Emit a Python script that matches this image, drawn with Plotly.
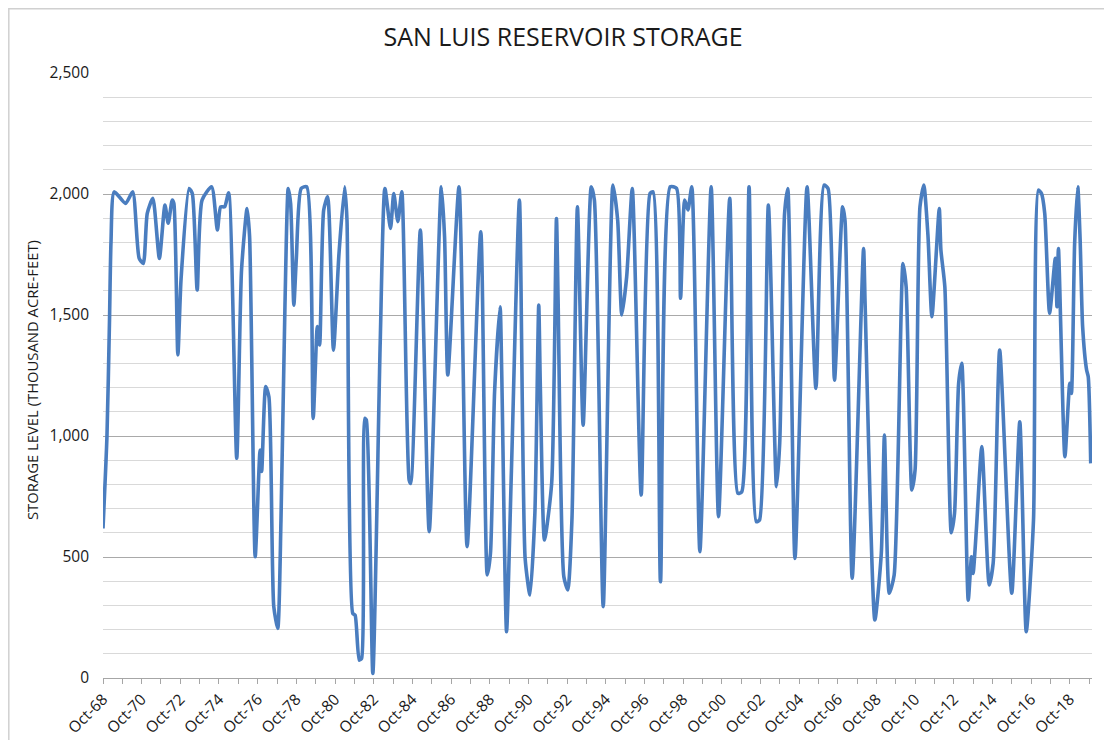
import plotly.graph_objects as go

dates = [
    "1968-10-01", "1968-12-15", "1969-02-01", "1969-03-01", "1969-05-01", "1969-12-01",
    "1970-04-15", "1970-08-15", "1970-11-01", "1971-01-15", "1971-05-01", "1971-09-01",
    "1971-12-15", "1972-02-15", "1972-05-01", "1972-06-01", "1972-08-15", "1972-10-15",
    "1973-03-15", "1973-05-15", "1973-08-15", "1973-11-15", "1974-05-15", "1974-09-01",
    "1974-11-01", "1975-01-15", "1975-04-01", "1975-09-01", "1975-12-01", "1976-03-15",
    "1976-05-01", "1976-08-15", "1976-11-15", "1976-12-15", "1977-03-01", "1977-05-01",
    "1977-08-01", "1977-10-15", "1977-12-15", "1978-03-01", "1978-05-01", "1978-06-15",
    "1978-08-15", "1978-10-01", "1979-01-01", "1979-04-15", "1979-08-15", "1979-11-01",
    "1979-12-15", "1980-03-01", "1980-05-15", "1980-09-01", "1980-12-15", "1981-04-01",
    "1981-05-15", "1981-09-01", "1981-10-15", "1982-01-01", "1982-02-15", "1982-04-15",
    "1982-05-15", "1982-09-15", "1983-02-01", "1983-05-01", "1983-08-15", "1983-10-15",
    "1984-01-01", "1984-03-15", "1984-08-01", "1984-09-01", "1985-03-01", "1985-08-15",
    "1986-04-01", "1986-06-01", "1986-08-01", "1987-03-01", "1987-08-01", "1988-04-15",
    "1988-08-15", "1988-10-15", "1989-01-01", "1989-04-15", "1989-05-15", "1989-08-15",
    "1989-11-15", "1990-04-15", "1990-08-01", "1990-11-01", "1991-02-01", "1991-04-15",
    "1991-05-15", "1991-08-01", "1991-12-15", "1992-03-15", "1992-04-15", "1992-08-01",
    "1992-10-15", "1993-01-01", "1993-04-15", "1993-08-01", "1994-01-01", "1994-03-01",
    "1994-08-15", "1995-02-15", "1995-05-15", "1995-08-01", "1995-11-01", "1996-02-15",
    "1996-08-01", "1997-01-15", "1997-03-15", "1997-08-01", "1998-02-01", "1998-06-01",
    "1998-08-15", "1998-11-01", "1999-01-01", "1999-03-15", "1999-08-15", "2000-03-15",
    "2000-08-01", "2001-03-01", "2001-08-01", "2001-10-15", "2002-03-01", "2002-07-15",
    "2002-09-15", "2003-03-01", "2003-08-01", "2003-10-01", "2004-01-01", "2004-03-01",
    "2004-07-15", "2005-03-01", "2005-08-15", "2006-01-15", "2006-04-01", "2006-08-01",
    "2007-01-01", "2007-02-15", "2007-07-01", "2008-02-01", "2008-03-01", "2008-09-01",
    "2009-01-01", "2009-03-01", "2009-06-01", "2009-09-01", "2010-02-15", "2010-04-15",
    "2010-08-01", "2010-10-01", "2011-01-01", "2011-03-15", "2011-06-01", "2011-08-15",
    "2012-01-01", "2012-02-01", "2012-04-15", "2012-08-15", "2012-10-15", "2013-01-01",
    "2013-03-01", "2013-07-01", "2013-09-01", "2013-10-01", "2013-12-01", "2014-03-15",
    "2014-08-01", "2014-10-15", "2015-02-15", "2015-10-01", "2016-03-01", "2016-07-01",
    "2016-11-15", "2017-02-15", "2017-04-15", "2017-06-15", "2017-09-15", "2018-01-01",
    "2018-02-01", "2018-03-01", "2018-07-01", "2018-10-01", "2018-11-01", "2019-01-01",
    "2019-03-01", "2019-04-15", "2019-06-01", "2019-08-15", "2019-09-15", "2019-11-01",
]

storage = [
    618, 1000, 1480, 1800, 2009, 1961,
    2009, 1734, 1713, 1920, 1982, 1734,
    1954, 1879, 1975, 1961, 1335, 1650,
    2023, 2002, 1603, 1975, 2030, 1851,
    1947, 1947, 2005, 908, 1686, 1940,
    1824, 501, 942, 853, 1204, 1162,
    295, 205, 653, 1548, 2023, 1961,
    1541, 1734, 2023, 2030, 1073, 1452,
    1376, 1934, 1989, 1355, 1755, 2030,
    1892, 267, 260, 74, 81, 1073,
    1066, 19, 1383, 2023, 1858, 2002,
    1886, 2009, 818, 804, 1851, 605,
    2030, 1824, 1252, 2030, 543, 1844,
    426, 515, 1183, 1534, 1273, 191,
    857, 1975, 494, 343, 680, 1541,
    1204, 570, 804, 1899, 1562, 419,
    364, 653, 1947, 1045, 2030, 1975,
    295, 2037, 1892, 1500, 1658, 2023,
    756, 2002, 2009, 398, 2030, 2023,
    1569, 1975, 1934, 2030, 522, 2030,
    667, 1982, 763, 770, 2030, 646,
    653, 1954, 791, 970, 1920, 2023,
    494, 2030, 1197, 2037, 2023, 1231,
    1947, 1892, 412, 1775, 1548, 240,
    515, 1004, 350, 426, 1713, 1617,
    777, 860, 1947, 2037, 1830, 1493,
    1940, 1768, 1617, 600, 680, 1218,
    1300, 322, 501, 432, 611, 956,
    384, 474, 1355, 350, 1059, 191,
    653, 2016, 2002, 1920, 1507, 1734,
    1534, 1775, 914, 1218, 1176, 1796,
    2030, 1810, 1452, 1273, 1245, 887,
]

title_text = "SAN LUIS RESERVOIR STORAGE"
y_title = "STORAGE LEVEL (THOUSAND ACRE-FEET)"

FONT = "Open Sans"
TXT = "#1a1a1a"

fig = go.Figure()
fig.add_trace(go.Scatter(
    x=dates, y=storage, mode="lines",
    line=dict(color="#4a7dbf", width=3.6, shape="spline", smoothing=0.6),
    hoverinfo="x+y", showlegend=False,
))

# The page body adds an 8 px offset, so the figure is laid out 8 px smaller.
W, H = 1104, 732
L, R, T, B = 95, 1084, 65, 670
pw, ph = R - L, B - T

fig.update_layout(
    width=W, height=H,
    margin=dict(l=L, r=W - R, t=T, b=H - B, autoexpand=False),
    paper_bgcolor="white", plot_bgcolor="white",
    font=dict(family=FONT, color=TXT, size=15),
    title=dict(text=title_text, x=555 / W, xref="container",
               y=1 - 29 / H, yref="container", xanchor="center", yanchor="middle",
               font=dict(family=FONT, size=25, color=TXT)),
    xaxis=dict(
        type="date", automargin=False,
        range=["1968-10-01", "2019-11-25"],
        tick0="1968-10-01", dtick="M24", tickformat="%b-%y",
        tickangle=-45, ticks="outside", ticklen=5, tickcolor="#a6a6a6", tickwidth=1,
        showline=True, linecolor="#a6a6a6", linewidth=1.2,
        showgrid=False, zeroline=False,
        tickfont=dict(family=FONT, size=15.5, color=TXT),
        minor=dict(dtick="M12", tick0="1968-10-01", ticks="outside", ticklen=5,
                   tickcolor="#a6a6a6", tickwidth=1, showgrid=False),
    ),
    yaxis=dict(
        automargin=False,
        range=[0, 2500], dtick=500, tickformat=",",
        showgrid=True, gridcolor="#a9a9a9", gridwidth=1.3,
        showline=False, zeroline=False, ticks="",
        ticklabelstandoff=13,
        tickfont=dict(family=FONT, size=15.5, color=TXT),
        minor=dict(dtick=100, showgrid=True, gridcolor="#d9d9d9", gridwidth=1.3),
    ),
    shapes=[dict(
        type="rect", xref="paper", yref="paper",
        x0=(0.8 - L) / pw, x1=(W + 10 - L) / pw,
        y0=(B - (H + 10)) / ph, y1=(B - 0.8) / ph,
        line=dict(color="#d0d0d0", width=1.5), fillcolor="rgba(0,0,0,0)", layer="below",
    )],
    annotations=[dict(
        text=y_title, xref="paper", yref="paper",
        x=(24 - L) / pw, y=(B - 372) / ph, textangle=-90,
        showarrow=False, xanchor="center", yanchor="middle",
        font=dict(family=FONT, size=14.8, color=TXT),
    )],
)

fig.write_html("out.html")
